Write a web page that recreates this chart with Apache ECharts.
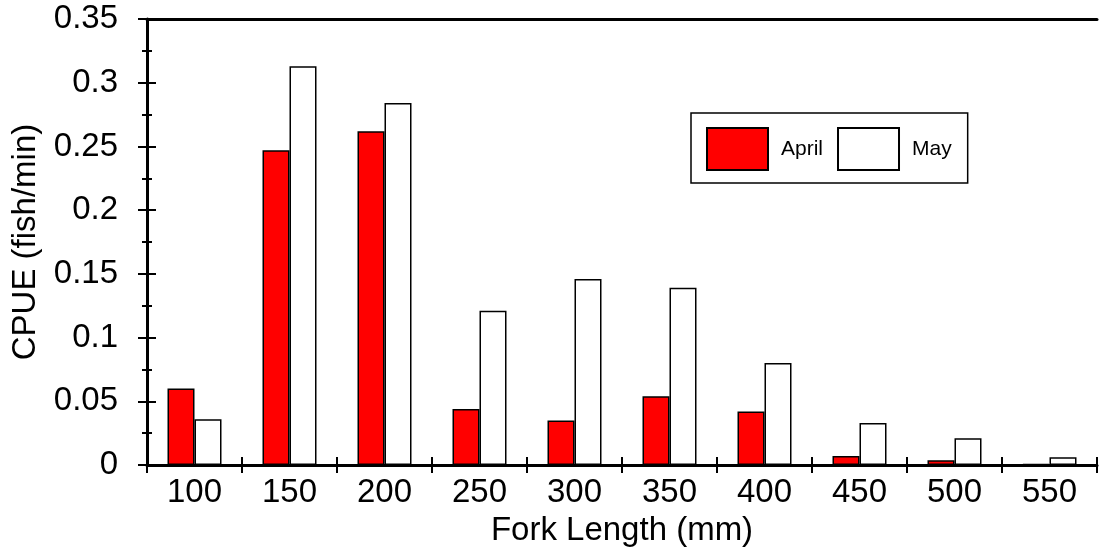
<!DOCTYPE html>
<html>
<head>
<meta charset="utf-8">
<script src="https://cdn.jsdelivr.net/npm/echarts@6/dist/echarts.min.js"></script>
<style>
html,body{margin:0;padding:0;background:#fff;}
#chart{width:1099px;height:555px;}
</style>
</head>
<body>
<div id="chart"></div>
<script>
const categories = ['100','150','200','250','300','350','400','450','500','550'];
const april = [0.060, 0.247, 0.262, 0.044, 0.035, 0.054, 0.042, 0.007, 0.0037, 0.0006];
const may   = [0.036, 0.313, 0.284, 0.121, 0.146, 0.139, 0.080, 0.033, 0.021, 0.006];
const yTicks = {min: 0, max: 0.35, interval: 0.05};
const xName = 'Fork Length (mm)';
const yName = 'CPUE (fish/min)';

const FONT = '"Liberation Sans", Arial, sans-serif';
const chart = echarts.init(document.getElementById('chart'), null, {renderer: 'canvas'});

const yLabelFmt = v => {
  const r = Math.round(v * 1000) / 1000;
  return r === 0 ? '0' : String(r);
};

const option = {
  backgroundColor: '#fff',
  animation: false,
  grid: {left: 147, right: 2, top: 19, bottom: 90, containLabel: false},
  legend: {
    show: true,
    left: 691, top: 113,
    orient: 'horizontal',
    itemWidth: 61, itemHeight: 42,
    itemGap: 14,
    padding: [14, 16, 12, 15],
    borderColor: '#000', borderWidth: 1.5,
    backgroundColor: '#fff',
    icon: 'rect',
    textStyle: {fontFamily: FONT, fontSize: 21, color: '#000', padding: [0, 0, 0, 8]},
    data: ['April', 'May']
  },
  xAxis: [
    {
      type: 'category', data: categories, position: 'bottom',
      boundaryGap: true,
      axisLine: {show: true, lineStyle: {color: '#000', width: 3}},
      axisTick: {show: true, inside: false, length: 8, lineStyle: {color: '#000', width: 2}},
      axisLabel: {fontFamily: FONT, fontSize: 33, color: '#000', margin: 11},
      splitLine: {show: false},
      name: xName, nameLocation: 'middle', nameGap: 49,
      nameTextStyle: {fontFamily: FONT, fontSize: 33, color: '#000'}
    },
    {
      type: 'category', data: categories, position: 'bottom',
      boundaryGap: true,
      axisLine: {show: false},
      axisTick: {show: true, inside: true, length: 8, lineStyle: {color: '#000', width: 2}},
      axisLabel: {show: false},
      splitLine: {show: false}
    },
    {
      type: 'category', data: categories, position: 'top',
      axisLine: {show: true, lineStyle: {color: '#000', width: 3}},
      axisTick: {show: false},
      axisLabel: {show: false},
      splitLine: {show: false}
    }
  ],
  yAxis: [
    {
      type: 'value', min: yTicks.min, max: yTicks.max, interval: yTicks.interval,
      position: 'left',
      axisLine: {show: true, lineStyle: {color: '#000', width: 3}},
      axisTick: {show: true, inside: false, length: 9, lineStyle: {color: '#000', width: 2}},
      minorTick: {show: true, splitNumber: 2, length: 5, lineStyle: {color: '#000', width: 2}},
      axisLabel: {fontFamily: FONT, fontSize: 33, color: '#000', margin: 29, formatter: yLabelFmt},
      splitLine: {show: false},
      name: yName, nameLocation: 'middle', nameGap: 99, nameRotate: 90,
      nameTextStyle: {fontFamily: FONT, fontSize: 33, color: '#000'}
    },
    {
      type: 'value', min: yTicks.min, max: yTicks.max, interval: yTicks.interval,
      position: 'left',
      axisLine: {show: false},
      axisTick: {show: true, inside: true, length: 9, lineStyle: {color: '#000', width: 2}},
      minorTick: {show: true, splitNumber: 2, length: 5, lineStyle: {color: '#000', width: 2}},
      axisLabel: {show: false},
      splitLine: {show: false}
    }
  ],
  series: [
    {
      name: 'April', type: 'bar', data: april,
      xAxisIndex: 0, yAxisIndex: 0,
      barWidth: 27, barGap: '0%',
      itemStyle: {color: '#ff0000', borderColor: '#000', borderWidth: 1.5}
    },
    {
      name: 'May', type: 'bar', data: may,
      xAxisIndex: 0, yAxisIndex: 0,
      barWidth: 27, barGap: '0%',
      itemStyle: {color: '#ffffff', borderColor: '#000', borderWidth: 1.5}
    }
  ]
};
chart.setOption(option);
</script>
</body>
</html>
